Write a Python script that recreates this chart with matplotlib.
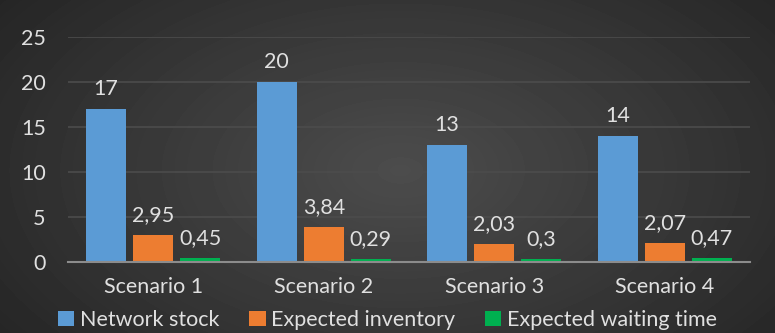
import numpy as np
import matplotlib.pyplot as plt
from matplotlib.patches import Patch

scenarios = ["Scenario 1", "Scenario 2", "Scenario 3", "Scenario 4"]
network_stock = [17, 20, 13, 14]
expected_inventory = [2.95, 3.84, 2.03, 2.07]
expected_waiting = [0.45, 0.29, 0.3, 0.47]
series_names = ["Network stock", "Expected inventory", "Expected waiting time"]
colors = ["#5b9bd5", "#ed7d31", "#00b050"]

plt.rcParams['font.family'] = ['Lato', 'DejaVu Sans']
fs = 15.5
txt = '#e0e0e0'

fig = plt.figure(figsize=(7.75, 3.33), dpi=100)

# dark radial background
bg = fig.add_axes([0, 0, 1, 1], zorder=-10)
yy, xx = np.mgrid[0:333, 0:775]
r = np.sqrt(((xx - 400) / 520.0) ** 2 + ((yy - 170) / 300.0) ** 2)
shade = np.clip(0.30 - 0.16 * r, 0.13, 0.30)
bg.imshow(shade, cmap='gray', vmin=0, vmax=1, aspect='auto', extent=[0, 1, 0, 1])
bg.axis('off')

ax = fig.add_axes([68 / 775, 1 - 262 / 333, (750 - 68) / 775, 225 / 333])
ax.set_facecolor('none')

x = np.arange(len(scenarios))
w = 0.235
off = 0.276
for i, (vals, c) in enumerate(zip([network_stock, expected_inventory, expected_waiting], colors)):
    pos = x + (i - 1) * off
    ax.bar(pos, vals, width=w, color=c, zorder=3)
    for p, v in zip(pos, vals):
        lbl = f"{v:g}".replace('.', ',')
        ax.text(p, v + 1.1, lbl, ha='center', va='bottom', color=txt, fontsize=fs)

ax.set_xlim(-0.5, 3.5)
ax.set_ylim(0, 25)
ax.set_yticks([0, 5, 10, 15, 20, 25])
ax.yaxis.grid(True, color='#4c4c4c', linewidth=1.2, zorder=0)
ax.set_xticks(x)
ax.set_xticklabels(scenarios)
ax.tick_params(axis='both', length=0, colors=txt, labelsize=fs)
ax.tick_params(axis='y', pad=16)
ax.tick_params(axis='x', pad=11)
for s in ['top', 'right', 'left']:
    ax.spines[s].set_visible(False)
ax.spines['bottom'].set_color('#8c8c8c')
ax.spines['bottom'].set_linewidth(1.5)
ax.spines['bottom'].set_zorder(4)

handles = [Patch(facecolor=c, label=n) for c, n in zip(colors, series_names)]
fig.legend(handles=handles, loc='center', bbox_to_anchor=(0.5, 1 - 320 / 333), ncol=3,
           frameon=False, fontsize=fs, labelcolor=txt, handlelength=0.75,
           handleheight=0.75, handletextpad=0.25, columnspacing=1.4,
           borderaxespad=0, borderpad=0)

fig.savefig('out.png', dpi=100)
